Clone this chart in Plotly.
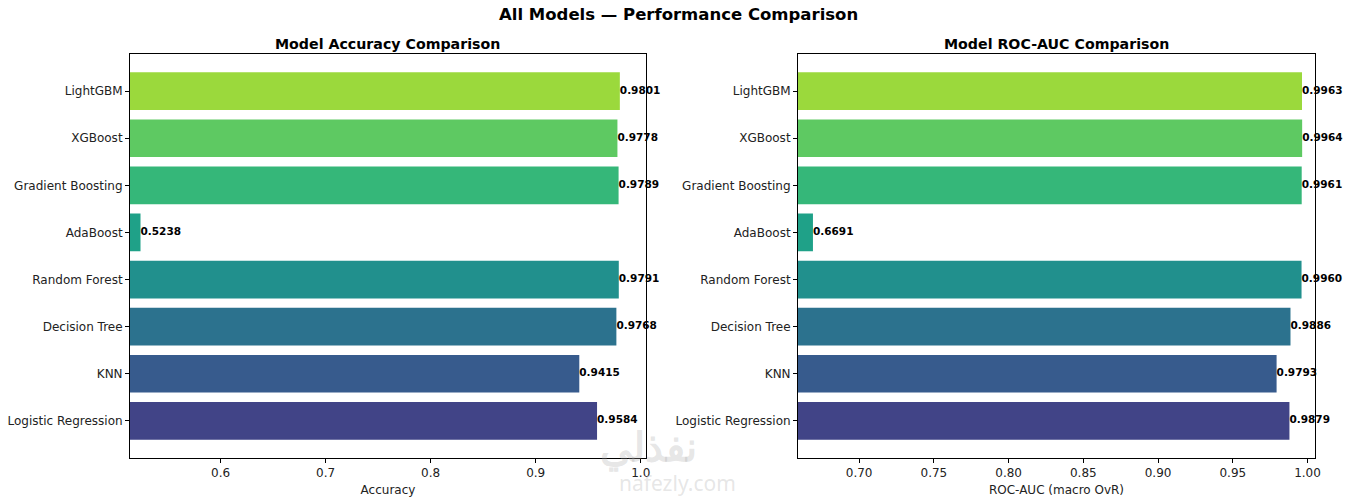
import plotly.graph_objects as go

models = ["Logistic Regression", "KNN", "Decision Tree", "Random Forest",
          "AdaBoost", "Gradient Boosting", "XGBoost", "LightGBM"]
accuracy = [0.9584, 0.9415, 0.9768, 0.9791, 0.5238, 0.9789, 0.9778, 0.9801]
roc_auc = [0.9879, 0.9793, 0.9886, 0.9960, 0.6691, 0.9961, 0.9964, 0.9963]
acc_ticks = [0.6, 0.7, 0.8, 0.9, 1.0]
acc_ticklabels = ["0.6", "0.7", "0.8", "0.9", "1.0"]
auc_ticks = [0.70, 0.75, 0.80, 0.85, 0.90, 0.95, 1.00]
auc_ticklabels = ["0.70", "0.75", "0.80", "0.85", "0.90", "0.95", "1.00"]

colors = ["#414487", "#375b8d", "#2c728e", "#21908d",
          "#1fa188", "#35b779", "#5ec962", "#9bd93c"]

FONT = "DejaVu Sans"
fig = go.Figure()

def add_panel(vals, xa, ya):
    fig.add_trace(go.Bar(
        x=vals, y=models, orientation="h", width=0.8,
        marker=dict(color=colors, line=dict(width=0)),
        xaxis=xa, yaxis=ya, showlegend=False, hoverinfo="x+y"))
    fig.add_trace(go.Scatter(
        x=vals, y=models, mode="text",
        text=[f"<b>{v:.4f}</b>" for v in vals],
        textposition="middle right",
        textfont=dict(family=FONT, size=10.5, color="black"),
        xaxis=xa, yaxis=ya, showlegend=False, cliponaxis=False, hoverinfo="skip"))

add_panel(accuracy, "x", "y")
add_panel(roc_auc, "x2", "y2")

axis_common = dict(showline=True, mirror=True, linecolor="black", linewidth=1,
                   ticks="outside", ticklen=4, tickcolor="black", showgrid=False,
                   zeroline=False, automargin=False,
                   tickfont=dict(family=FONT, size=12, color="#222"))
title_font = dict(family=FONT, size=12, color="#222")

fig.update_layout(
    width=1353, height=498, margin=dict(l=0, r=0, t=0, b=0),
    paper_bgcolor="white", plot_bgcolor="white",
    font=dict(family=FONT, color="black"),
    bargap=0.2,
    xaxis=dict(domain=[130/1353, 646/1353], range=[min(accuracy) - 0.01, 1.005],
               tickvals=acc_ticks, ticktext=acc_ticklabels, anchor="y",
               title=dict(text="Accuracy", font=title_font, standoff=6),
               **axis_common),
    yaxis=dict(domain=[40/498, 444/498], range=[-0.79, 7.79], anchor="x",
               categoryorder="array", categoryarray=models, **axis_common),
    xaxis2=dict(domain=[798/1353, 1315/1353], range=[min(roc_auc) - 0.01, 1.005],
                tickvals=auc_ticks, ticktext=auc_ticklabels, anchor="y2",
                title=dict(text="ROC-AUC (macro OvR)", font=title_font, standoff=6),
                **axis_common),
    yaxis2=dict(domain=[40/498, 444/498], range=[-0.79, 7.79], anchor="x2",
                categoryorder="array", categoryarray=models, **axis_common),
    annotations=[
        dict(text="<b>All Models — Performance Comparison</b>", x=678/1353, y=1 - 14/498,
             xref="paper", yref="paper", showarrow=False, xanchor="center", yanchor="middle",
             font=dict(family=FONT, size=16.5, color="black")),
        dict(text="<b>Model Accuracy Comparison</b>", x=(130 + 646) / 2 / 1353, y=1 - 44/498,
             xref="paper", yref="paper", showarrow=False, xanchor="center", yanchor="middle",
             font=dict(family=FONT, size=14.2, color="black")),
        dict(text="<b>Model ROC-AUC Comparison</b>", x=(798 + 1315) / 2 / 1353, y=1 - 44/498,
             xref="paper", yref="paper", showarrow=False, xanchor="center", yanchor="middle",
             font=dict(family=FONT, size=14.2, color="black")),
        dict(text="<b>نفذلي</b>", x=648/1353, y=1 - 445/498, xref="paper", yref="paper",
             showarrow=False, xanchor="center", yanchor="middle",
             font=dict(family="Noto Sans", size=40, color="rgba(170,170,170,0.3)")),
        dict(text="nafezly.com", x=677/1353, y=1 - 483/498, xref="paper", yref="paper",
             showarrow=False, xanchor="center", yanchor="middle",
             font=dict(family="Noto Sans", size=21, color="rgba(170,170,170,0.3)")),
    ],
)

fig.write_html("out.html", config={"displayModeBar": False},
               post_script="document.body.style.margin='0';document.body.style.padding='0';"
                           "document.body.style.overflow='hidden';")
